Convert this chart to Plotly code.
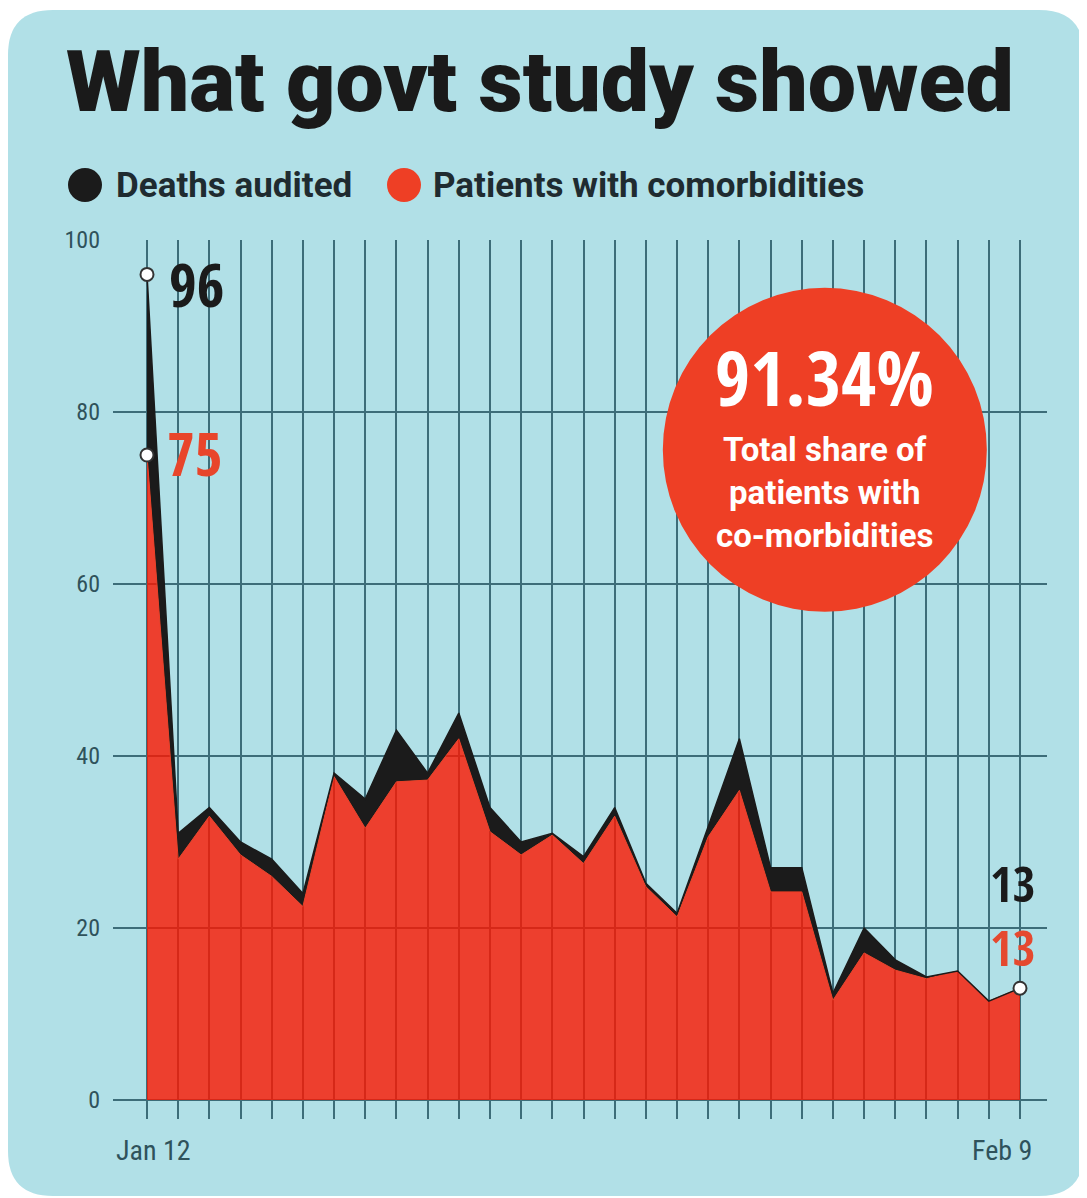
import plotly.graph_objects as go

# ---- data ----
dates = ["Jan 12", "Jan 13", "Jan 14", "Jan 15", "Jan 16", "Jan 17", "Jan 18", "Jan 19",
         "Jan 20", "Jan 21", "Jan 22", "Jan 23", "Jan 24", "Jan 25", "Jan 26", "Jan 27",
         "Jan 28", "Jan 29", "Jan 30", "Jan 31", "Feb 1", "Feb 2", "Feb 3", "Feb 4",
         "Feb 5", "Feb 6", "Feb 7", "Feb 8", "Feb 9"]
deaths_audited = [96, 31, 34, 30, 28, 24, 38, 35, 43, 38, 45, 34, 30, 31, 28.3, 34, 25.2,
                  21.7, 31.8, 42, 27, 27, 12.4, 20, 16.3, 14.3, 15, 11.5, 13]
comorbidities = [75, 28, 33, 28.5, 26, 22.5, 37.6, 31.6, 37, 37.2, 42, 31.2, 28.5, 30.8,
                 27.5, 33, 24.8, 21.3, 30.6, 36, 24.2, 24.2, 11.6, 17.1, 15.1, 14.1, 15, 11.5, 13]
y_ticks = [0, 20, 40, 60, 80, 100]
x_tick_labels = ["Jan 12", "Feb 9"]
title = "What govt study showed"
legend_names = ["Deaths audited", "Patients with comorbidities"]
highlight_value = "91.34%"
highlight_text = "Total share of<br>patients with<br>co-morbidities"

x = list(range(len(dates)))

# page body has an 8px margin: figure is sized/placed to compensate
OFF = 8
W, H = 1087 - OFF, 1198 - OFF
BG = "#b1e0e7"
RED = "#ee3f25"
RED_FILL = "rgba(253,23,0,0.8)"
BLACK = "#1b1b1b"
GRID = "#3d6d79"
TXT = "#2f525b"
COND = "Open Sans Condensed, Roboto Condensed, sans-serif"
RCOND = "Roboto Condensed, sans-serif"
SANS = "Roboto, sans-serif"


def px(xp):
    return (xp - OFF) / W


def py(yp):
    return 1 - (yp - OFF) / H


fig = go.Figure()

# red area (patients with comorbidities)
fig.add_trace(go.Scatter(x=x, y=comorbidities, mode="lines", fill="tozeroy",
                         fillcolor=RED_FILL, line=dict(color=RED, width=1),
                         hoverinfo="skip", showlegend=False))
# black band up to deaths audited
fig.add_trace(go.Scatter(x=x, y=deaths_audited, mode="lines", fill="tonexty",
                         fillcolor=BLACK, line=dict(color=BLACK, width=1.5),
                         hoverinfo="skip", showlegend=False))

# white point markers
first, last = 0, len(x) - 1
fig.add_trace(go.Scatter(
    x=[x[first], x[first], x[last]],
    y=[deaths_audited[first], comorbidities[first], comorbidities[last]],
    mode="markers",
    marker=dict(color="white", size=13, line=dict(color="#333333", width=2)),
    hoverinfo="skip", showlegend=False))

# value labels
fig.add_annotation(x=x[first], y=deaths_audited[first], text=str(deaths_audited[first]),
                   showarrow=False, xanchor="left", yanchor="middle", xshift=20, yshift=-10,
                   font=dict(family=COND, size=60, color=BLACK, weight="bold"))
fig.add_annotation(x=x[first], y=comorbidities[first], text=str(comorbidities[first]),
                   showarrow=False, xanchor="left", yanchor="middle", xshift=18, yshift=2,
                   font=dict(family=COND, size=60, color="#e8452b", weight="bold"))
fig.add_annotation(x=x[last], y=deaths_audited[last], text=str(deaths_audited[last]),
                   showarrow=False, xanchor="center", yanchor="middle", xshift=-8, yshift=105,
                   font=dict(family=COND, size=49, color=BLACK, weight="bold"))
fig.add_annotation(x=x[last], y=comorbidities[last], text=str(comorbidities[last]),
                   showarrow=False, xanchor="center", yanchor="middle", xshift=-8, yshift=41,
                   font=dict(family=COND, size=49, color="#e5492f", weight="bold"))

# x labels (first / last date)
fig.add_annotation(x=x[first], y=0, text=x_tick_labels[0], showarrow=False,
                   xanchor="center", yanchor="middle", xshift=6, yshift=-50,
                   font=dict(family=RCOND, size=28, color=TXT))
fig.add_annotation(x=x[last], y=0, text=x_tick_labels[1], showarrow=False,
                   xanchor="center", yanchor="middle", xshift=-18, yshift=-50,
                   font=dict(family=RCOND, size=28, color=TXT))

# highlight circle
CX, CY = 21.74, 75.6
fig.add_shape(type="circle", xref="x", yref="y", xsizemode="pixel", ysizemode="pixel",
              xanchor=CX, yanchor=CY, x0=-162, x1=162, y0=-162, y1=162,
              fillcolor=RED, line=dict(width=0), layer="above")
fig.add_annotation(x=CX, y=CY, text=highlight_value, showarrow=False,
                   xanchor="center", yanchor="middle", yshift=73,
                   font=dict(family=COND, size=76, color="white", weight="bold"))
fig.add_annotation(x=CX, y=CY, text=highlight_text, showarrow=False,
                   xanchor="center", yanchor="middle", yshift=-43,
                   font=dict(family=SANS, size=33, color="white", weight="bold"))

# background card
r = 45
x0, x1, y0, y1 = OFF, 1084, 10, 1196
path = (f"M {px(x0 + r)} {py(y0)} L {px(x1 - r)} {py(y0)} "
        f"Q {px(x1)} {py(y0)} {px(x1)} {py(y0 + r)} "
        f"L {px(x1)} {py(y1 - r)} Q {px(x1)} {py(y1)} {px(x1 - r)} {py(y1)} "
        f"L {px(x0 + r)} {py(y1)} Q {px(x0)} {py(y1)} {px(x0)} {py(y1 - r)} "
        f"L {px(x0)} {py(y0 + r)} Q {px(x0)} {py(y0)} {px(x0 + r)} {py(y0)} Z")
fig.add_shape(type="path", xref="paper", yref="paper", path=path,
              fillcolor=BG, line=dict(width=0), layer="below")

# title
fig.add_annotation(xref="paper", yref="paper", x=px(64), y=py(81), text=title,
                   showarrow=False, xanchor="left", yanchor="middle",
                   font=dict(family=SANS, size=86, color="#1a1a1a", weight=900))

# legend
fig.add_shape(type="circle", xref="paper", yref="paper",
              x0=px(68), x1=px(102), y0=py(168), y1=py(202),
              fillcolor=BLACK, line=dict(width=0))
fig.add_annotation(xref="paper", yref="paper", x=px(114), y=py(185), text=legend_names[0],
                   showarrow=False, xanchor="left", yanchor="middle",
                   font=dict(family=SANS, size=35, color="#1f2b30", weight="bold"))
fig.add_shape(type="circle", xref="paper", yref="paper",
              x0=px(387), x1=px(421), y0=py(168), y1=py(202),
              fillcolor=RED, line=dict(width=0))
fig.add_annotation(xref="paper", yref="paper", x=px(431), y=py(185), text=legend_names[1],
                   showarrow=False, xanchor="left", yanchor="middle",
                   font=dict(family=SANS, size=35, color="#1f2b30", weight="bold"))

step = (1020 - 147) / (len(x) - 1)
fig.update_layout(
    width=W, height=H,
    margin=dict(l=0, r=0, t=0, b=0),
    paper_bgcolor="white",
    plot_bgcolor="rgba(0,0,0,0)",
    showlegend=False,
    xaxis=dict(domain=[px(113), px(1047)],
               range=[-(147 - 113) / step, (len(x) - 1) + (1047 - 1020) / step],
               tickvals=x, ticktext=[""] * len(x),
               showgrid=True, gridcolor=GRID, gridwidth=2,
               ticks="outside", ticklen=18, tickwidth=2, tickcolor=GRID,
               zeroline=False, showline=False, fixedrange=True, automargin=False),
    yaxis=dict(domain=[py(1100), py(240)], range=[0, 100],
               tickvals=y_ticks, ticktext=[str(v) for v in y_ticks],
               showgrid=True, gridcolor=GRID, gridwidth=2,
               zeroline=True, zerolinecolor=GRID, zerolinewidth=2,
               showline=False, ticks="", ticklabelstandoff=12,
               tickfont=dict(family=RCOND, size=24, color=TXT),
               fixedrange=True, automargin=False),
)

fig.write_html("out.html")
